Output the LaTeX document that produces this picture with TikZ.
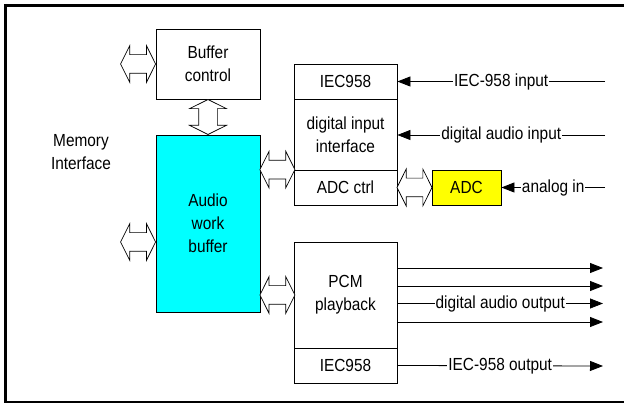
\documentclass[tikz,border=0pt]{standalone}
\usepackage{fontspec}
\setmainfont{Liberation Sans}[FakeStretch=0.88]
\usetikzlibrary{shapes.arrows,arrows.meta,calc}
\definecolor{awbcyan}{RGB}{0,255,255}
\definecolor{adcyellow}{RGB}{255,255,0}
\begin{document}
\begin{tikzpicture}[x=1pt,y=-1pt,
  every node/.style={font=\fontsize{17.5}{23}\selectfont},
  blk/.style={draw=black,line width=0.8pt,align=center,inner sep=0pt},
  dbl/.style={double arrow,draw=black,fill=white,line width=0.7pt,inner xsep=0pt,inner ysep=9pt,
     minimum height=35pt,double arrow head extend=9pt,double arrow tip angle=127,double arrow head indent=0pt},
  sig/.style={line width=0.8pt},
  tip/.style={-{Triangle[length=13pt,width=10pt]}},
  lbl/.style={fill=white,inner xsep=1pt,inner ysep=2pt}
]
\useasboundingbox (0,0) rectangle (624,403);
% frame
\draw[line width=3pt] (4,5.5) -- (624,5.5);
\draw[line width=3pt] (5.5,4) -- (5.5,402.5);
\draw[line width=2pt] (4,401.5) -- (624,401.5);

% blocks
\node[blk,minimum width=104pt,minimum height=70pt] (buf) at (208,64) {Buffer\\control};
\node[blk,fill=awbcyan,minimum width=104pt,minimum height=177pt] (awb) at (208,223.5) {Audio\\work\\buffer};
\node[blk,minimum width=103pt,minimum height=35pt] (iec1) at (345.5,81.5) {IEC958};
\node[blk,minimum width=103pt,minimum height=71pt] (dii) at (345.5,134.5) {digital input\\interface};
\node[blk,minimum width=103pt,minimum height=35pt] (adcc) at (345.5,187.5) {ADC ctrl};
\node[blk,fill=adcyellow,minimum width=69pt,minimum height=35pt] (adc) at (466.5,187.5) {ADC};
\node[blk,minimum width=103pt,minimum height=106pt] (pcm) at (345.5,295) {PCM\\playback};
\node[blk,minimum width=103pt,minimum height=35pt] (iec2) at (345.5,365.5) {IEC958};
\node[align=center,inner sep=0pt] (mem) at (81,152.5) {Memory\\Interface};

% double block arrows
\node[dbl] (d1) at ($(buf.west)+(-17.5,0)$) {};
\node[dbl,rotate=90] (d2) at ($(buf.south)!0.5!(awb.north)$) {};
\node[dbl] (d3) at ($(awb.west|-0,242)+(-17.5,0)$) {};
\node[dbl] (d4) at ($(awb.east|-adcc.north)+(17,0)$) {};
\node[dbl] (d5) at ($(awb.east|-pcm.center)+(17,0)$) {};
\node[dbl] (d6) at ($(adcc.east)!0.5!(adc.west)$) {};

% inputs
\coordinate (in1) at (605,81.5);
\coordinate (in2) at (605,135);
\coordinate (in3) at (605,187.5);
\draw[sig,tip] (in1) -- (iec1.east) node[lbl,pos=0.5] (t1) {IEC-958 input};
\draw[sig,tip] (in2) -- (iec1.east|-in2) node[lbl,pos=0.5] (t2) {digital audio input};
\draw[sig,tip] (in3) -- (adc.east) node[lbl,pos=0.5] (t3) {analog in};

% outputs
\coordinate (o1) at (603,268);
\coordinate (o2) at (603,286);
\coordinate (o3) at (603,303.5);
\coordinate (o4) at (603,322);
\coordinate (o5) at (603,366);
\draw[sig,tip] (pcm.east|-o1) -- (o1);
\draw[sig,tip] (pcm.east|-o2) -- (o2);
\draw[sig,tip] (pcm.east|-o3) -- (o3) node[lbl,pos=0.5] (t4) {digital audio output};
\draw[sig,tip] (pcm.east|-o4) -- (o4);
\draw[sig,tip] (iec2.east) -- (o5) node[lbl,pos=0.5] (t5) {IEC-958 output};
\end{tikzpicture}
\end{document}
